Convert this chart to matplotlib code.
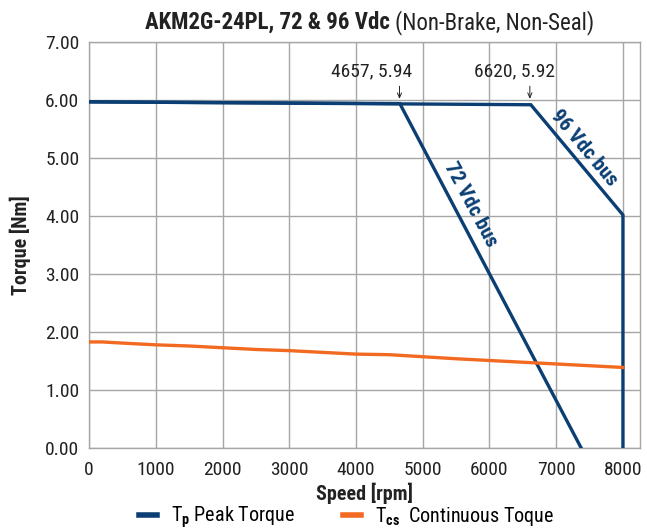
import matplotlib
matplotlib.use('Agg')
import matplotlib.pyplot as plt
from matplotlib import font_manager

# valores
speed_72 = [0, 4657, 7375]
torque_72 = [5.97, 5.94, 0.0]
speed_96 = [0, 6620, 8000, 8000]
torque_96 = [5.97, 5.92, 4.02, 0.0]
speed_cont = [0, 200, 500, 1000, 1500, 2000, 2500, 3000, 3500, 4000, 4500, 5000, 5500, 6000, 6500, 7000, 7500, 8000]
torque_cont = [1.83, 1.83, 1.81, 1.78, 1.76, 1.73, 1.70, 1.68, 1.65, 1.62, 1.61, 1.575, 1.54, 1.51, 1.48, 1.45, 1.42, 1.39]
x_ticks = [0, 1000, 2000, 3000, 4000, 5000, 6000, 7000, 8000]
y_ticks = [0, 1, 2, 3, 4, 5, 6, 7]

names = {f.name for f in font_manager.fontManager.ttflist}
fonte = 'Roboto Condensed' if 'Roboto Condensed' in names else 'DejaVu Sans'
plt.rcParams['font.family'] = [fonte, 'DejaVu Sans']
plt.rcParams['mathtext.fontset'] = 'custom'
plt.rcParams['mathtext.rm'] = fonte
plt.rcParams['mathtext.bf'] = fonte + ':bold'

azul = '#0B3F73'
laranja = '#F26A21'
cinza = '#A6A6A6'
texto = '#222222'

fig = plt.figure(figsize=(6.47, 5.29), dpi=100)
ax = fig.add_axes([0.1376, 0.153, 0.851, 0.7674])

ax.plot(speed_72, torque_72, color=azul, lw=2.4, solid_joinstyle='miter', zorder=3)
ax.plot(speed_96, torque_96, color=azul, lw=2.4, solid_joinstyle='miter', zorder=3, label=r'T$_\mathbf{p}$ Peak Torque')
ax.plot(speed_cont, torque_cont, color=laranja, lw=2.4, zorder=3, label=r'T$_\mathbf{cs}$  Continuous Toque')

ax.set_xlim(0, 8250)
ax.set_ylim(0, 7)
ax.set_xticks(x_ticks)
ax.set_yticks(y_ticks)
ax.set_yticklabels([f'{v:.2f}' for v in y_ticks])
ax.tick_params(labelsize=14, length=0, colors=texto)
ax.tick_params(axis='x', pad=9)
ax.tick_params(axis='y', pad=7)
ax.grid(True, color=cinza, lw=1)
for s in ax.spines.values():
    s.set_color(cinza)
    s.set_linewidth(1)

ax.set_xlabel('Speed [rpm]', fontsize=14.5, fontweight='bold', color=texto, labelpad=3)
ax.set_ylabel('Torque [Nm]', fontsize=14.5, fontweight='bold', color=texto, labelpad=10)

# titulo: parte em negrito + parte normal
fig.text(0.602, 0.957, 'AKM2G-24PL, 72 & 96 Vdc', ha='right', va='center', fontsize=16.5, fontweight='bold', color=texto)
fig.text(0.611, 0.957, '(Non-Brake, Non-Seal)', ha='left', va='center', fontsize=16.5, color=texto)

# anotações dos pontos de quebra
ax.text(speed_72[1] - 430, 6.5, '4657, 5.94', ha='center', va='center', fontsize=14, color=texto)
ax.text(speed_96[1] - 250, 6.5, '6620, 5.92', ha='center', va='center', fontsize=14, color=texto)
for sx in [speed_72[1] - 5, speed_96[1] - 15]:
    ax.annotate('', xy=(sx, 6.02), xytext=(sx, 6.24),
                arrowprops=dict(arrowstyle='->,head_length=0.35,head_width=0.15', color=texto, lw=0.7,
                                shrinkA=0, shrinkB=0))

ax.text(5720, 4.2, '72 Vdc bus', rotation=-62, ha='center', va='center', fontsize=15,
        fontweight='bold', color=azul, rotation_mode='anchor')
ax.text(7420, 5.17, '96 Vdc bus', rotation=-50, ha='center', va='center', fontsize=15,
        fontweight='bold', color=azul, rotation_mode='anchor')

leg = ax.legend(loc='upper center', bbox_to_anchor=(0.468, -0.104), ncol=2, frameon=False,
                fontsize=14.5, handlelength=0.9, columnspacing=2.4, handletextpad=0.7,
                borderpad=0.2)
for linha in leg.get_lines():
    linha.set_linewidth(4)

plt.savefig('out.png', dpi=100)
plt.close()
